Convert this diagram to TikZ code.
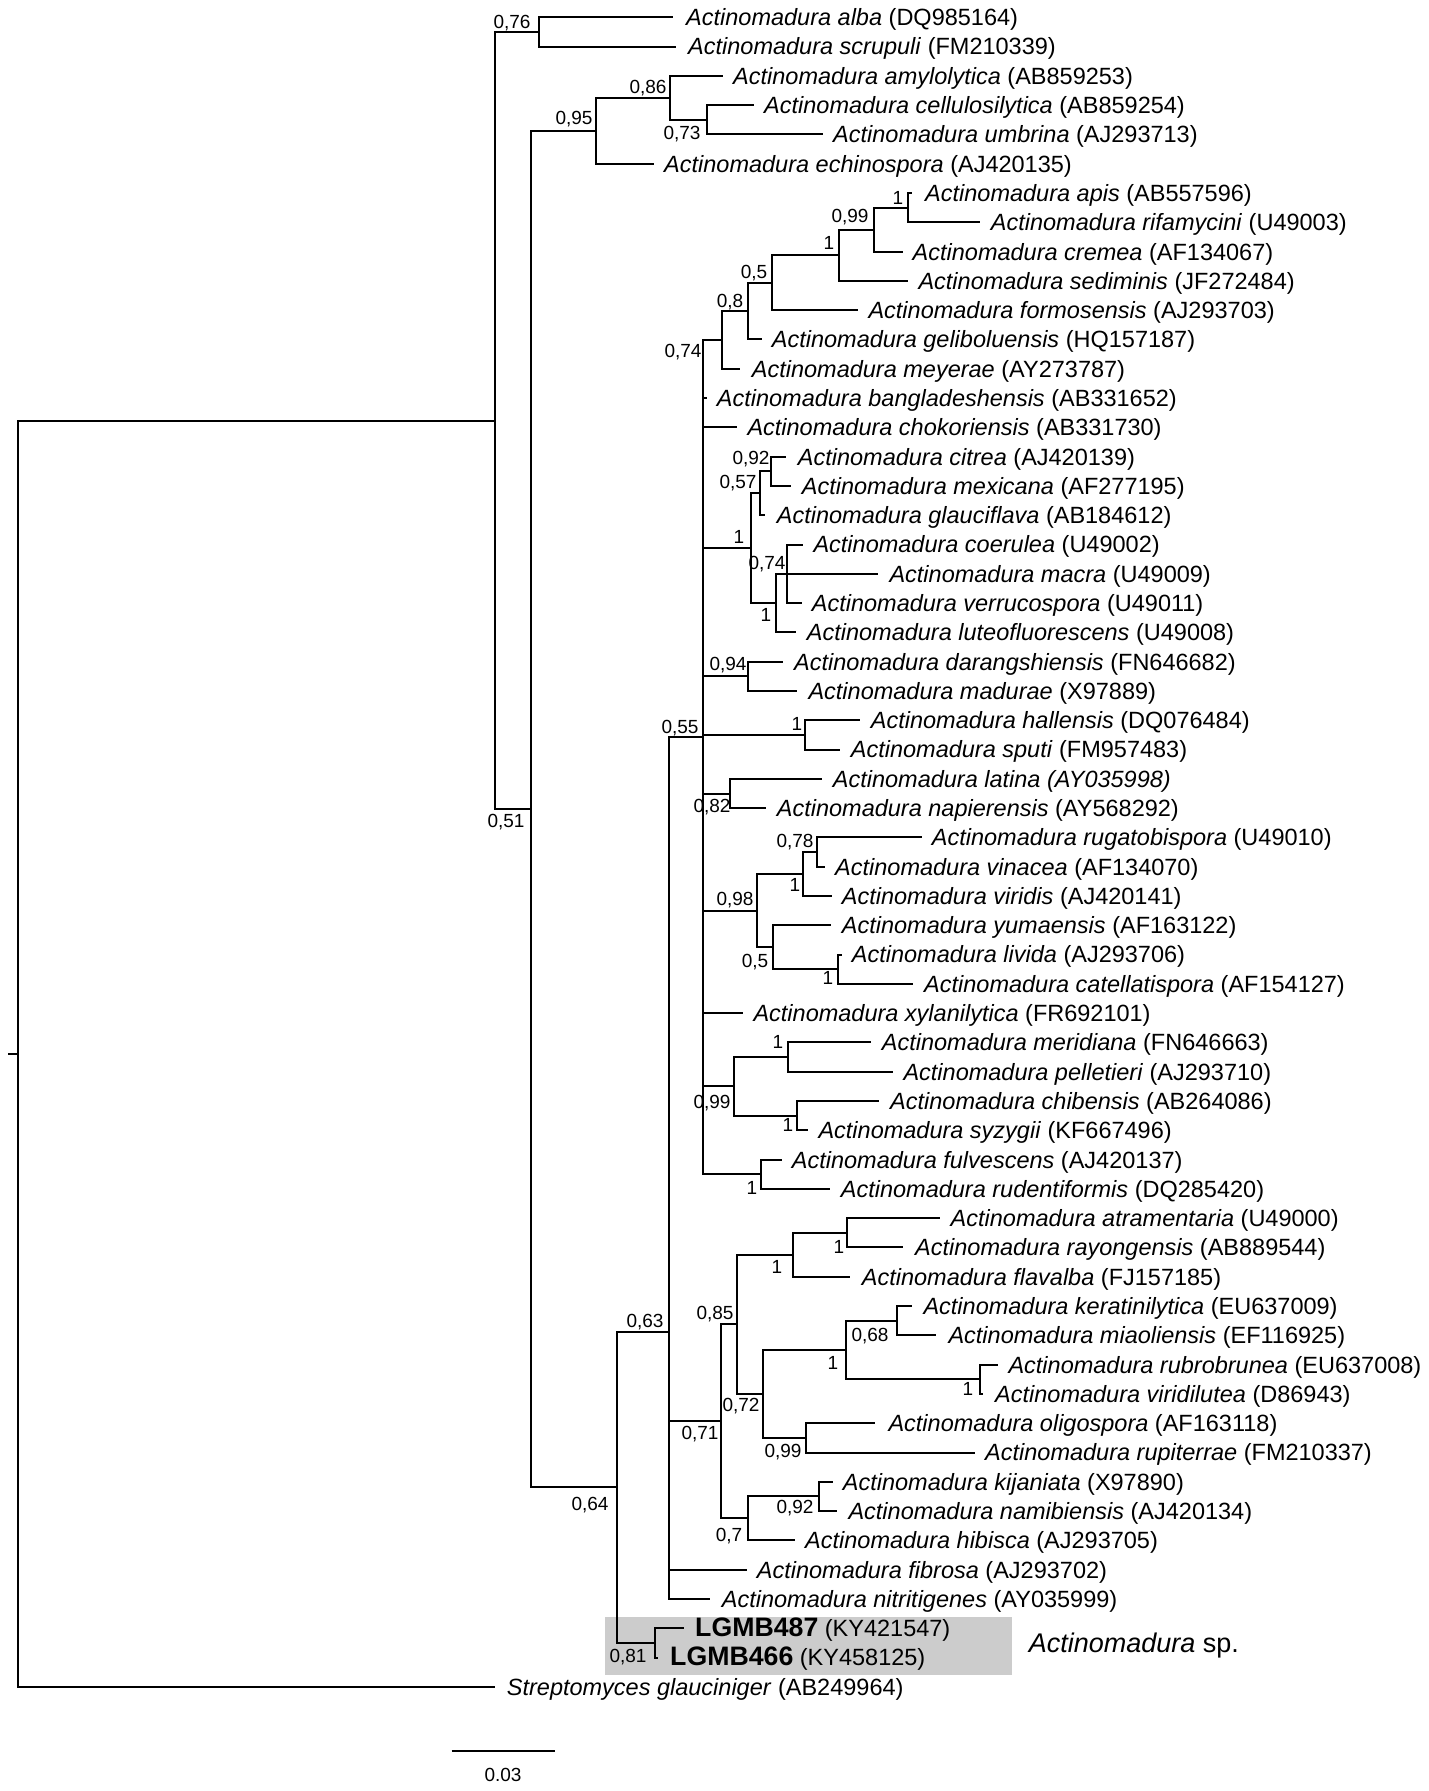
\documentclass[tikz,border=0pt]{standalone}
\usepackage{fontspec}
\setmainfont{Liberation Sans}
\tikzset{
  br/.style={line width=2pt},
  lab/.style={anchor=base west, inner sep=0pt, font=\fontsize{23.5}{28}\selectfont},
  supl/.style={anchor=base, inner sep=0pt, font=\fontsize{19}{22}\selectfont},
  sbox/.style={fill=black!20, draw=none},
}
% #1 name, #2 parent, #3 tip x, #4 row, #5 text x, #6 text
\newcommand\leaf[6]{%
  \pgfmathsetmacro\ly{17.3+29.29*(#4-1)}%
  \coordinate (#1) at (#3,\ly);
  \draw[br] (#2) |- (#1);
  \node[lab] (#1-t) at (#5,\ly+8.4) {#6};
}
\newcommand\inode[4]{% #1 name, #2 parent, #3 x, #4 y
  \coordinate (#1) at (#3,#4);
  \draw[br] (#2) |- (#1);
}
\newcommand\supp[4]{\node[supl] (#1) at (#2,#3+6.8) {#4};}
\newcommand\am[2]{\textit{Actinomadura #1} (#2)}
\begin{document}
\begin{tikzpicture}[x=1pt,y=-1pt]
\useasboundingbox (0,0) rectangle (1429,1791);
% highlight box
\node[sbox, minimum width=406.6pt, minimum height=57.6pt, anchor=north west, inner sep=0pt] (hbox) at (605,1617.2) {};
% internal nodes
\coordinate (R) at (18,1053.7);
\coordinate (stub) at (8.4,1053.7);
\draw[br] (stub) -- (R);
\inode{A}{R}{495}{420.5}
\inode{n076}{A}{539.3}{31.95}
\inode{B}{A}{531}{809.1}
\inode{n095}{B}{596}{130.85}
\inode{n086}{n095}{670}{97.9}
\inode{n073}{n086}{706.7}{119.85}
\inode{C}{B}{616.7}{1487.3}
\inode{n063}{C}{669.3}{1331.7}
\inode{n055}{n063}{702.7}{736.64}
\inode{n074b}{n055}{722.3}{339.95}
\inode{n08}{n074b}{748.3}{311.1}
\inode{n05}{n08}{771.7}{282.7}
\inode{n1a}{n05}{839.3}{255.3}
\inode{n099}{n1a}{874.3}{229.6}
\inode{napis}{n099}{908.3}{207.65}
\inode{n1b}{n055}{750.7}{548.2}
\inode{n057}{n1b}{760}{493.3}
\inode{n092}{n057}{771}{471.35}
\inode{n1c}{n1b}{776}{603.1}
\inode{n074c}{n1c}{786.7}{573.8}
\inode{n094}{n055}{748.3}{676.35}
\inode{nhal}{n055}{805}{734.95}
\inode{n082}{n055}{730}{793.55}
\inode{n098}{n055}{756.7}{910.65}
\inode{n1d}{n098}{803.3}{874.0}
\inode{n078}{n1d}{816.7}{852.05}
\inode{n05b}{n098}{772.7}{947.3}
\inode{n1e}{n05b}{838.3}{969.25}
\inode{n099b}{n055}{734}{1086.45}
\inode{n1f}{n099b}{787.7}{1057.15}
\inode{n1g}{n099b}{796.7}{1115.75}
\inode{n1h}{n055}{760.7}{1174.25}
\inode{n071}{n063}{721}{1421.4}
\inode{n085}{n071}{736.7}{1324.4}
\inode{n1i}{n085}{793.3}{1254.8}
\inode{n1j}{n1i}{847.3}{1232.85}
\inode{n072}{n085}{762.7}{1394.0}
\inode{n1k}{n072}{846}{1350.05}
\inode{n068}{n1k}{896.7}{1320.75}
\inode{nrub}{n1k}{980}{1379.35}
\inode{n099c}{n072}{805.7}{1437.95}
\inode{n07}{n071}{747.7}{1518.4}
\inode{n092b}{n07}{819.3}{1496.45}
\inode{nLG}{C}{655}{1642.95}
% leaves
\leaf{l1}{n076}{673.3}{1}{686}{\am{alba}{DQ985164}}
\leaf{l2}{n076}{676}{2}{688}{\am{scrupuli}{FM210339}}
\leaf{l3}{n086}{723.3}{3}{733}{\am{amylolytica}{AB859253}}
\leaf{l4}{n073}{754}{4}{764}{\am{cellulosilytica}{AB859254}}
\leaf{l5}{n073}{822.7}{5}{833}{\am{umbrina}{AJ293713}}
\leaf{l6}{n095}{654}{6}{664}{\am{echinospora}{AJ420135}}
\leaf{l7}{napis}{912}{7}{925}{\am{apis}{AB557596}}
\leaf{l8}{napis}{980}{8}{990.7}{\am{rifamycini}{U49003}}
\leaf{l9}{n099}{903}{9}{912.5}{\am{cremea}{AF134067}}
\leaf{l10}{n1a}{908.3}{10}{918.3}{\am{sediminis}{JF272484}}
\leaf{l11}{n05}{858.3}{11}{868.3}{\am{formosensis}{AJ293703}}
\leaf{l12}{n08}{761.7}{12}{771.7}{\am{geliboluensis}{HQ157187}}
\leaf{l13}{n074b}{740}{13}{751.7}{\am{meyerae}{AY273787}}
\leaf{l14}{n055}{706.7}{14}{716.7}{\am{bangladeshensis}{AB331652}}
\leaf{l15}{n055}{736.7}{15}{747.3}{\am{chokoriensis}{AB331730}}
\leaf{l16}{n092}{786}{16}{797.7}{\am{citrea}{AJ420139}}
\leaf{l17}{n092}{791}{17}{801.7}{\am{mexicana}{AF277195}}
\leaf{l18}{n057}{765}{18}{776.7}{\am{glauciflava}{AB184612}}
\leaf{l19}{n074c}{803.3}{19}{813.3}{\am{coerulea}{U49002}}
\leaf{l20}{n074c}{878.3}{20}{889.3}{\am{macra}{U49009}}
\leaf{l21}{n074c}{801.7}{21}{811.7}{\am{verrucospora}{U49011}}
\leaf{l22}{n1c}{796}{22}{806.7}{\am{luteofluorescens}{U49008}}
\leaf{l23}{n094}{783.3}{23}{794}{\am{darangshiensis}{FN646682}}
\leaf{l24}{n094}{797.3}{24}{808.3}{\am{madurae}{X97889}}
\leaf{l25}{nhal}{860}{25}{870.7}{\am{hallensis}{DQ076484}}
\leaf{l26}{nhal}{840}{26}{850.7}{\am{sputi}{FM957483}}
\leaf{l27}{n082}{821.7}{27}{832.7}{\textit{Actinomadura latina (AY035998)}}
\leaf{l28}{n082}{766}{28}{776.7}{\am{napierensis}{AY568292}}
\leaf{l29}{n078}{921.7}{29}{931.7}{\am{rugatobispora}{U49010}}
\leaf{l30}{n078}{825}{30}{835}{\am{vinacea}{AF134070}}
\leaf{l31}{n1d}{831.7}{31}{841.7}{\am{viridis}{AJ420141}}
\leaf{l32}{n05b}{830.7}{32}{841.7}{\am{yumaensis}{AF163122}}
\leaf{l33}{n1e}{841.7}{33}{851.7}{\am{livida}{AJ293706}}
\leaf{l34}{n1e}{913.3}{34}{924}{\am{catellatispora}{AF154127}}
\leaf{l35}{n055}{742.7}{35}{753.3}{\am{xylanilytica}{FR692101}}
\leaf{l36}{n1f}{870.7}{36}{881.7}{\am{meridiana}{FN646663}}
\leaf{l37}{n1f}{892.7}{37}{903.3}{\am{pelletieri}{AJ293710}}
\leaf{l38}{n1g}{879.3}{38}{890}{\am{chibensis}{AB264086}}
\leaf{l39}{n1g}{808.3}{39}{818.3}{\am{syzygii}{KF667496}}
\leaf{l40}{n1h}{781.7}{40}{791.7}{\am{fulvescens}{AJ420137}}
\leaf{l41}{n1h}{830}{41}{840.7}{\am{rudentiformis}{DQ285420}}
\leaf{l42}{n1j}{940}{42}{950.5}{\am{atramentaria}{U49000}}
\leaf{l43}{n1j}{903}{43}{915}{\am{rayongensis}{AB889544}}
\leaf{l44}{n1i}{850}{44}{861.7}{\am{flavalba}{FJ157185}}
\leaf{l45}{n068}{912}{45}{923.3}{\am{keratinilytica}{EU637009}}
\leaf{l46}{n068}{936}{46}{948.3}{\am{miaoliensis}{EF116925}}
\leaf{l47}{nrub}{998.3}{47}{1008.3}{\am{rubrobrunea}{EU637008}}
\leaf{l48}{nrub}{983.3}{48}{995}{\am{viridilutea}{D86943}}
\leaf{l49}{n099c}{875}{49}{888.3}{\am{oligospora}{AF163118}}
\leaf{l50}{n099c}{975}{50}{985}{\am{rupiterrae}{FM210337}}
\leaf{l51}{n092b}{832.7}{51}{842.7}{\am{kijaniata}{X97890}}
\leaf{l52}{n092b}{836.7}{52}{848.3}{\am{namibiensis}{AJ420134}}
\leaf{l53}{n07}{795}{53}{805}{\am{hibisca}{AJ293705}}
\leaf{l54}{n063}{746.7}{54}{756.7}{\am{fibrosa}{AJ293702}}
\leaf{l55}{n063}{710}{55}{721.7}{\am{nitritigenes}{AY035999}}
\leaf{l56}{nLG}{684}{56}{695}{{\fontsize{26.7}{30}\selectfont\bfseries LGMB487} (KY421547)}
\leaf{l57}{nLG}{658.3}{57}{670}{{\fontsize{26.7}{30}\selectfont\bfseries LGMB466} (KY458125)}
\leaf{l58}{R}{495}{58}{506.7}{\textit{Streptomyces glauciniger} (AB249964)}
\node[lab, font=\fontsize{27}{32}\selectfont] (sp) at (1028.6,1652.7) {\textit{Actinomadura} sp.};
% support values
\supp{s1}{512}{22}{0,76}
\supp{s2}{574}{118}{0,95}
\supp{s3}{648}{87}{0,86}
\supp{s4}{682}{133}{0,73}
\supp{s5}{898}{198}{1}
\supp{s6}{850}{216}{0,99}
\supp{s7}{829}{243}{1}
\supp{s8}{754}{272}{0,5}
\supp{s9}{730}{301}{0,8}
\supp{s10}{683}{351}{0,74}
\supp{s11}{751}{458}{0,92}
\supp{s12}{738}{482}{0,57}
\supp{s13}{739}{537}{1}
\supp{s14}{767}{563}{0,74}
\supp{s15}{766}{615}{1}
\supp{s16}{728}{664}{0,94}
\supp{s17}{680}{727}{0,55}
\supp{s18}{797}{724}{1}
\supp{s19}{712}{806}{0,82}
\supp{s20}{795}{841}{0,78}
\supp{s21}{795}{885}{1}
\supp{s22}{735}{899}{0,98}
\supp{s23}{755}{961}{0,5}
\supp{s24}{828}{978}{1}
\supp{s25}{778}{1042}{1}
\supp{s26}{712}{1102}{0,99}
\supp{s27}{788}{1125}{1}
\supp{s28}{752}{1188}{1}
\supp{s29}{839}{1247}{1}
\supp{s30}{777}{1267}{1}
\supp{s31}{715}{1313}{0,85}
\supp{s32}{645}{1321}{0,63}
\supp{s33}{870}{1335}{0,68}
\supp{s34}{833}{1363}{1}
\supp{s35}{968}{1389}{1}
\supp{s36}{741}{1405}{0,72}
\supp{s37}{700}{1433}{0,71}
\supp{s38}{783}{1451}{0,99}
\supp{s39}{590}{1504}{0,64}
\supp{s40}{795}{1507}{0,92}
\supp{s41}{729}{1535}{0,7}
\supp{s42}{628}{1656}{0,81}
\supp{s43}{506}{821}{0,51}
% scale bar
\coordinate (sbL) at (451.7,1750.7);
\coordinate (sbR) at (555,1750.7);
\draw[br] (sbL) -- (sbR);
\supp{sbt}{503}{1775}{0.03}
\end{tikzpicture}
\end{document}
